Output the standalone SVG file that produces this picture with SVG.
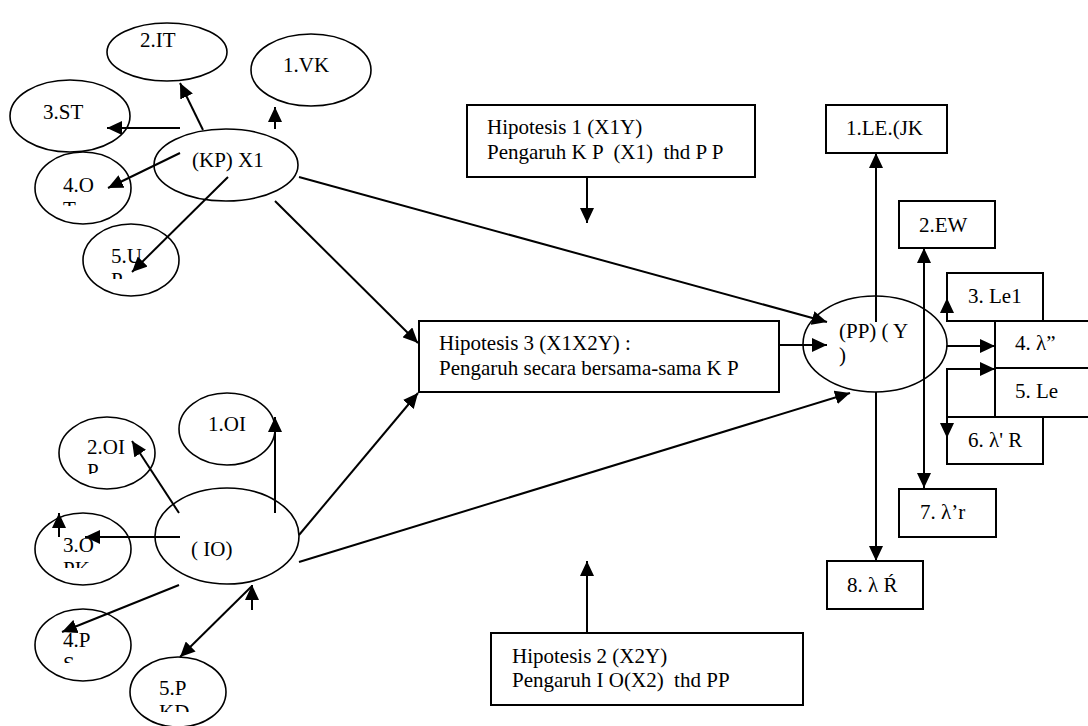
<svg xmlns="http://www.w3.org/2000/svg" width="1088" height="726" viewBox="0 0 1088 726">
<style>
text{font-family:"Liberation Serif","Times New Roman",serif;font-size:21px;fill:#000}
.el{fill:#fff;stroke:#000;stroke-width:1.6}
.bx{fill:#fff;stroke:#000;stroke-width:2}
.c{fill:none;stroke:#000;stroke-width:2}
.a{marker-end:url(#ah)}
</style>
<defs>
<marker id="ah" markerUnits="userSpaceOnUse" markerWidth="15" markerHeight="14" refX="15" refY="7" orient="auto-start-reverse"><path d="M0,0 L15,7 L0,14 z" fill="#000"/></marker>
<clipPath id="c4o"><rect x="0" y="0" width="1088" height="206"/></clipPath>
<clipPath id="c5u"><rect x="0" y="0" width="1088" height="279"/></clipPath>
<clipPath id="c2oi"><rect x="0" y="0" width="1088" height="474"/></clipPath>
<clipPath id="c3o"><rect x="0" y="0" width="1088" height="568"/></clipPath>
<clipPath id="c4p"><rect x="0" y="0" width="1088" height="663"/></clipPath>
<clipPath id="c5p"><rect x="0" y="0" width="1088" height="712"/></clipPath>
</defs>
<rect width="1088" height="726" fill="#fff"/>

<g id="n-2it"><ellipse class="el" cx="167" cy="52" rx="60" ry="29"/><text x="140" y="47">2.IT</text></g>
<g id="n-1vk"><ellipse class="el" cx="311" cy="70" rx="60" ry="36"/><text x="283" y="72">1.VK</text></g>
<g id="n-3st"><ellipse class="el" cx="70" cy="116" rx="60" ry="36"/><text x="43" y="119">3.ST</text></g>
<g id="n-4ot"><ellipse class="el" cx="83" cy="188" rx="48" ry="36"/><text x="63" y="192" clip-path="url(#c4o)">4.O<tspan x="63" y="216">T</tspan></text></g>
<g id="n-5up"><ellipse class="el" cx="131" cy="260" rx="48" ry="36"/><text x="111" y="263" clip-path="url(#c5u)">5.U<tspan x="111" y="287">P</tspan></text></g>
<g id="n-kp"><ellipse class="el" cx="226" cy="165" rx="72" ry="36"/><text x="192" y="167">(KP) X1</text></g>

<g id="n-1oi"><ellipse class="el" cx="227" cy="429" rx="48" ry="36"/><text x="208" y="431">1.OI</text></g>
<g id="n-2oip"><ellipse class="el" cx="107" cy="453" rx="48" ry="36"/><text x="87" y="454" clip-path="url(#c2oi)">2.OI<tspan x="87" y="478">P</tspan></text></g>
<g id="n-3opk"><ellipse class="el" cx="83" cy="549" rx="48" ry="36"/><text x="63" y="552" clip-path="url(#c3o)">3.O<tspan x="63" y="576">PK</tspan></text></g>
<g id="n-4ps"><ellipse class="el" cx="83" cy="645" rx="48" ry="36"/><text x="63" y="647" clip-path="url(#c4p)">4.P<tspan x="63" y="671">S</tspan></text></g>
<g id="n-5pkd"><ellipse class="el" cx="178" cy="692" rx="48" ry="35"/><text x="159" y="695" clip-path="url(#c5p)">5.P<tspan x="159" y="719">KD</tspan></text></g>
<g id="n-io"><ellipse class="el" cx="227" cy="536" rx="72" ry="48"/><text x="191" y="556">( IO)</text></g>

<g id="n-h1"><rect class="bx" x="467" y="105" width="288" height="72"/><text x="487" y="134">Hipotesis 1 (X1Y)</text><text x="487" y="159" xml:space="preserve">Pengaruh K P  (X1)  thd P P</text></g>
<g id="n-h3"><rect class="bx" x="419" y="321" width="360" height="71"/><text x="439" y="350">Hipotesis 3 (X1X2Y) :</text><text x="439" y="375">Pengaruh secara bersama-sama K P</text></g>
<g id="n-h2"><rect class="bx" x="491" y="633" width="312" height="72"/><text x="512" y="663">Hipotesis 2 (X2Y)</text><text x="512" y="687" xml:space="preserve">Pengaruh I O(X2)  thd PP</text></g>

<g id="n-y"><ellipse class="el" cx="875" cy="344" rx="72" ry="48"/><text x="839" y="338">(PP) ( Y</text><text x="839" y="362">)</text></g>
<g id="n-1le"><rect class="bx" x="826" y="105" width="121" height="48"/><text x="846" y="135">1.LE.(JK</text></g>
<g id="n-2ew"><rect class="bx" x="899" y="201" width="96" height="47"/><text x="919" y="232">2.EW</text></g>
<g id="n-3le1"><rect class="bx" x="947" y="273" width="96" height="48"/><text x="968" y="303">3. Le1</text></g>
<g id="n-4l"><rect class="bx" x="995" y="321" width="100" height="47"/><text x="1015" y="350">4. λ”</text></g>
<g id="n-5le"><rect class="bx" x="995" y="368" width="100" height="49"/><text x="1015" y="398">5. Le</text></g>
<g id="n-6lr"><rect class="bx" x="947" y="417" width="96" height="47"/><text x="968" y="447">6. λ' R</text></g>
<g id="n-7lr"><rect class="bx" x="899" y="489" width="97" height="48"/><text x="920" y="519">7. λ’r</text></g>
<g id="n-8lr"><rect class="bx" x="827" y="561" width="96" height="48"/><text x="847" y="592">8. λ Ŕ</text></g>

<g id="connectors">
<line class="c a" x1="203" y1="130" x2="180" y2="83"/>
<line class="c a" x1="275" y1="129" x2="275" y2="107"/>
<line class="c a" x1="180" y1="128" x2="107" y2="128"/>
<line class="c a" x1="180" y1="153" x2="108" y2="188"/>
<line class="c a" x1="228" y1="177" x2="132" y2="272"/>
<line class="c a" x1="299" y1="177" x2="827" y2="322"/>
<line class="c a" x1="275" y1="201" x2="418" y2="343"/>
<line class="c a" x1="275" y1="513" x2="275" y2="417"/>
<line class="c a" x1="179" y1="513" x2="132" y2="441"/>
<line class="c a" x1="180" y1="537" x2="85" y2="537"/>
<line class="c a" x1="59" y1="537" x2="59" y2="513"/>
<line class="c a" x1="179" y1="585" x2="62" y2="632"/>
<line class="c a" x1="252" y1="586" x2="180" y2="657"/>
<line class="c a" x1="252" y1="610" x2="252" y2="585"/>
<line class="c a" x1="299" y1="535" x2="418" y2="393"/>
<line class="c a" x1="299" y1="562" x2="850" y2="393"/>
<line class="c a" x1="587" y1="177" x2="587" y2="223"/>
<line class="c a" x1="587" y1="633" x2="587" y2="561"/>
<line class="c a" x1="779" y1="345" x2="827" y2="345"/>
<line class="c a" x1="876" y1="322" x2="876" y2="153"/>
<line class="c a" x1="876" y1="392" x2="876" y2="561"/>
<line class="c a" x1="924" y1="248" x2="924" y2="488" style="marker-start:url(#ah)"/>
<line class="c a" x1="947" y1="321" x2="947" y2="298"/>
<line class="c a" x1="947" y1="346" x2="995" y2="346"/>
<line class="c a" x1="947" y1="369" x2="995" y2="369"/>
<line class="c a" x1="947" y1="368" x2="947" y2="438"/>
<line class="c" x1="947" y1="321" x2="995" y2="321"/>
<line class="c" x1="947" y1="417" x2="995" y2="417"/>
</g>
</svg>
